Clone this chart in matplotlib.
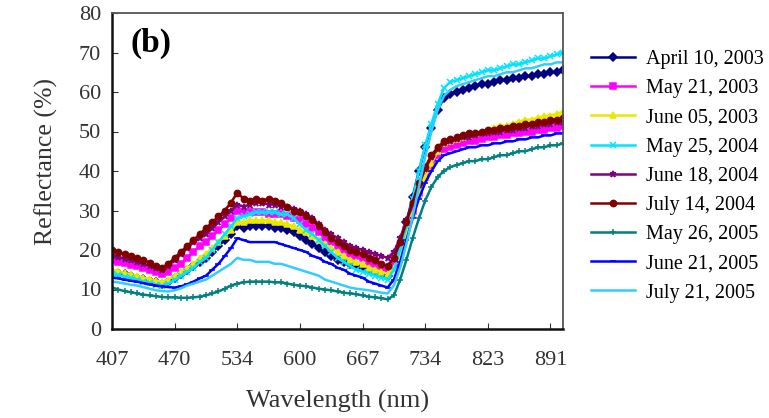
import matplotlib
matplotlib.use("Agg")
import matplotlib.pyplot as plt
import numpy as np

plt.rcParams['font.family'] = ['Liberation Serif', 'DejaVu Serif']

tick_labels = ["407", "470", "534", "600", "667", "734", "823", "891"]

dates = ["April 10, 2003", "May 21, 2003", "June 05, 2003", "May 25, 2004",
         "June 18, 2004", "July 14, 2004", "May 26, 2005", "June 21, 2005",
         "July 21, 2005"]

apr10_2003 = [14.5,14.2,13.8,13.4,13.0,12.6,12.2,11.8,11.5,12.0,13.0,14.0,15.0,16.0,17.0,18.0,19.5,21.0,22.5,24.0,
              26.0,25.5,26.0,26.0,26.0,26.0,25.5,25.5,25.0,24.5,23.5,22.5,21.5,20.5,19.5,18.5,17.5,17.0,16.5,16.0,
              15.5,15.0,14.5,14.0,13.5,16.0,21.0,27.0,33.5,40.0,46.0,51.0,55.5,58.5,59.5,60.0,60.5,61.0,61.5,62.0,
              62.0,62.5,63.0,63.0,63.5,63.5,64.0,64.0,64.5,64.5,65.0,65.0,65.5]
may21_2003 = [17.5,17.0,16.6,16.2,16.0,15.5,15.0,14.5,14.0,14.5,15.5,16.5,18.0,19.5,21.0,22.0,23.5,25.0,26.5,28.0,
              30.0,29.5,29.5,29.5,29.5,29.0,29.0,29.0,28.5,28.0,27.5,26.5,25.5,24.5,23.0,22.0,21.0,20.0,19.0,18.5,
              18.0,17.0,16.5,15.5,15.0,16.5,20.0,25.0,30.0,34.5,38.5,41.5,44.0,45.5,46.0,46.5,47.0,47.5,47.5,48.0,
              48.5,48.5,49.0,49.0,49.5,49.5,50.0,50.0,50.5,50.5,51.0,51.0,51.5]
jun05_2003 = [15.0,14.6,14.2,13.8,13.5,13.0,12.6,12.2,12.0,12.5,13.5,14.5,15.5,16.5,18.0,19.0,20.5,22.0,23.5,25.0,
              27.0,27.0,27.5,27.5,27.5,27.5,27.0,27.0,26.5,26.0,25.0,24.5,23.5,22.5,21.5,20.5,19.5,18.5,17.5,17.0,
              16.5,15.5,15.0,14.5,14.0,15.5,19.0,24.0,29.0,34.0,38.5,42.0,45.0,47.0,47.5,48.0,48.5,49.0,49.5,50.0,
              50.5,51.0,51.5,51.5,52.0,52.5,53.0,53.0,53.5,54.0,54.0,54.5,55.0]
may25_2004 = [14.0,13.6,13.2,12.8,12.5,12.0,11.6,11.2,11.0,11.5,12.5,13.5,14.5,15.5,17.0,18.0,20.0,22.0,24.0,26.0,
              28.0,28.5,29.0,29.5,29.5,29.5,29.5,29.0,29.0,28.0,26.5,25.0,24.0,22.5,21.0,19.5,18.0,17.0,16.0,15.0,
              14.5,14.0,13.5,13.0,12.5,15.0,20.0,26.0,33.0,40.0,46.5,52.0,57.0,61.0,62.5,63.0,63.5,64.0,64.5,65.0,
              65.5,65.5,66.0,66.5,67.0,67.0,67.5,68.0,68.5,68.5,69.0,69.5,70.0]
jun18_2004 = [18.5,18.2,17.8,17.4,17.0,16.5,16.0,15.5,15.0,16.0,17.5,19.0,20.5,22.0,23.0,24.0,25.5,27.0,28.5,30.0,
              31.5,31.0,31.5,32.0,32.0,31.5,31.5,31.0,31.0,30.5,30.0,29.0,28.0,26.5,25.0,24.0,23.0,22.0,21.0,20.5,
              20.0,19.5,19.0,18.5,18.0,19.5,23.0,27.5,32.0,36.5,40.5,43.5,45.5,47.0,47.5,48.0,48.5,48.5,49.0,49.5,
              49.5,50.0,50.0,50.5,50.5,51.0,51.0,51.5,51.5,52.0,52.0,52.5,52.5]
jul14_2004 = [20.0,19.5,19.0,18.5,18.0,17.5,16.8,16.0,15.5,16.5,18.0,19.5,21.0,22.5,24.0,25.5,27.0,28.5,30.0,32.0,
              34.5,33.0,32.5,33.0,32.5,33.0,32.5,32.0,31.0,30.0,29.5,28.5,27.5,26.0,24.5,23.0,22.0,21.0,20.0,19.5,
              19.0,18.0,17.5,16.5,16.0,18.0,22.0,27.0,32.0,37.0,41.0,44.0,46.0,47.5,48.0,48.5,49.0,49.5,49.5,50.0,
              50.5,50.5,51.0,51.0,51.5,51.5,52.0,52.0,52.5,52.5,53.0,53.0,53.5]
may26_2005 = [10.5,10.0,9.6,9.3,9.0,8.7,8.5,8.3,8.1,8.0,8.0,7.9,7.9,8.0,8.2,8.5,9.0,9.5,10.2,11.0,
              11.5,11.8,12.0,12.0,12.0,12.0,11.8,11.8,11.5,11.2,11.0,10.8,10.5,10.2,10.0,9.8,9.5,9.2,9.0,8.8,
              8.5,8.2,8.0,7.8,7.5,8.5,12.5,17.5,23.0,28.0,32.5,36.0,38.5,40.0,41.0,41.5,42.0,42.5,42.5,43.0,
              43.0,43.5,44.0,44.0,44.5,45.0,45.0,45.5,46.0,46.0,46.5,46.5,47.0]
jun21_2005 = [13.0,12.8,12.5,12.2,12.0,11.6,11.3,11.0,10.8,10.6,10.5,10.8,11.3,12.0,12.8,13.5,15.0,16.5,18.5,20.5,
              23.0,22.5,22.0,22.0,22.0,22.0,22.0,21.5,21.0,20.5,20.0,19.5,18.5,18.0,17.0,16.5,15.5,15.0,14.0,13.5,
              13.0,12.0,11.5,11.0,10.5,12.5,17.0,22.5,28.0,33.0,37.0,40.0,42.5,44.0,44.5,45.0,45.5,46.0,46.0,46.5,
              46.5,47.0,47.0,47.5,47.5,48.0,48.0,48.5,48.5,49.0,49.0,49.5,49.5]
jul21_2005 = [12.0,11.8,11.5,11.2,11.0,10.6,10.2,9.8,9.6,9.5,9.8,10.3,11.0,11.5,12.0,12.5,13.5,14.5,15.5,16.5,
              18.0,17.5,17.5,17.0,17.0,17.0,16.5,16.5,16.0,15.5,15.0,14.5,14.0,13.5,12.5,12.0,11.5,11.0,10.5,10.2,
              10.0,9.8,9.5,9.2,9.0,11.0,15.5,21.5,28.5,36.0,43.5,50.0,55.5,59.0,60.5,61.5,62.0,62.5,63.0,63.5,
              64.0,64.0,64.5,65.0,65.0,65.5,66.0,66.0,66.5,67.0,67.0,67.5,67.5]

series = [apr10_2003, may21_2003, jun05_2003, may25_2004, jun18_2004,
          jul14_2004, may26_2005, jun21_2005, jul21_2005]
colors = ["#000080", "#FF00FF", "#E8E800", "#00E5FF", "#800080",
          "#800000", "#008080", "#0000FF", "#33CCFF"]
markers = ["D", "s", "^", "x", "*", "o", "+", "_", None]

fig = plt.figure(figsize=(7.69, 4.18), dpi=100)
ax = fig.add_axes([112/769, 1-329/418, (563-112)/769, (329-13)/418])

handles = []
for vals, c, m, lab in zip(series, colors, markers, dates):
    x = np.arange(len(vals))
    h, = ax.plot(x, vals, color=c, lw=1.8, marker=m, markersize=4.5,
                 markeredgewidth=1.1, label=lab)
    handles.append(h)

n = len(series[0])
ax.set_xlim(0, n - 1)
ax.set_ylim(0, 80)
ax.set_yticks(range(0, 81, 10))
ax.set_xticks(np.arange(0, 71, 10))
ax.set_xticklabels(tick_labels)
ax.tick_params(direction='in', length=4, labelsize=16, colors='#333333', pad=8)
ax.tick_params(axis='x', pad=16)
for s in ['left', 'bottom']:
    ax.spines[s].set_linewidth(1.8)
    ax.spines[s].set_color('#111111')
for s in ['top', 'right']:
    ax.spines[s].set_linewidth(1.3)
    ax.spines[s].set_color('#555555')

ax.set_xlabel("Wavelength (nm)", fontsize=19, color='#333333', labelpad=14)
ax.set_ylabel("Reflectance (%)", fontsize=18.5, color='#333333')
ax.yaxis.set_label_coords(-0.12, 0.53)
ax.text(0.04, 0.905, "(b)", transform=ax.transAxes, fontsize=24,
        fontweight='bold', va='center', ha='left')

fig.legend(handles=handles, loc='upper left', bbox_to_anchor=(577/769, 1-36/418),
           frameon=False, fontsize=14.5, handlelength=2.2, handletextpad=0.55,
           labelspacing=0.5, borderpad=0.2)

fig.savefig("out.png", dpi=100)
